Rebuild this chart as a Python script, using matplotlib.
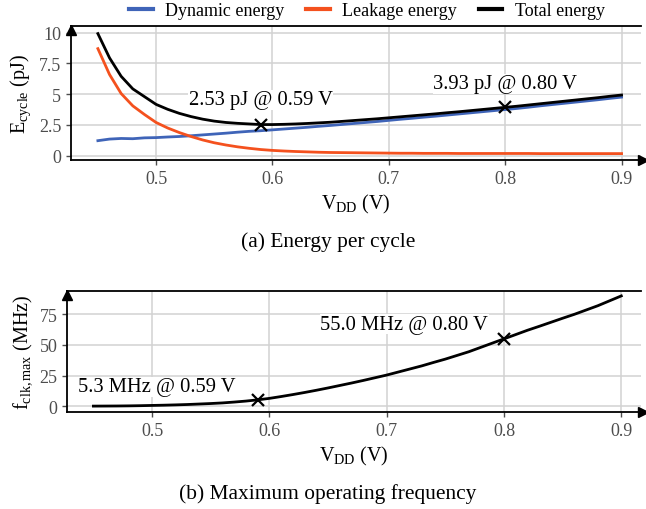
import matplotlib
matplotlib.use("Agg")
import matplotlib.pyplot as plt
from matplotlib.ticker import FuncFormatter
from matplotlib.transforms import offset_copy

plt.rcParams['font.family'] = ['Liberation Serif', 'DejaVu Serif']
plt.rcParams['mathtext.fontset'] = 'custom'
plt.rcParams['mathtext.rm'] = 'Liberation Serif'
plt.rcParams['mathtext.it'] = 'Liberation Serif:italic'

# ---------------- data ----------------
vdd = [0.45, 0.46, 0.47, 0.48, 0.49, 0.50, 0.51, 0.52, 0.53, 0.54,
       0.55, 0.56, 0.57, 0.58, 0.59, 0.60, 0.61, 0.62, 0.63, 0.64,
       0.65, 0.66, 0.67, 0.68, 0.69, 0.70, 0.71, 0.72, 0.73, 0.74,
       0.75, 0.76, 0.77, 0.78, 0.79, 0.80, 0.81, 0.82, 0.83, 0.84,
       0.85, 0.86, 0.87, 0.88, 0.89, 0.90]

dynamic_energy = [1.22, 1.35, 1.40, 1.38, 1.45, 1.47, 1.52, 1.56, 1.62, 1.69,
                  1.76, 1.83, 1.91, 1.98, 2.03, 2.10, 2.17, 2.24, 2.31, 2.39,
                  2.46, 2.54, 2.62, 2.70, 2.78, 2.87, 2.96, 3.04, 3.13, 3.21,
                  3.30, 3.39, 3.48, 3.57, 3.66, 3.75, 3.84, 3.94, 4.05, 4.15,
                  4.25, 4.35, 4.45, 4.55, 4.66, 4.76]

leakage_energy = [8.70, 6.60, 5.05, 4.05, 3.35, 2.70, 2.25, 1.88, 1.56, 1.28,
                  1.05, 0.87, 0.72, 0.60, 0.50, 0.43, 0.38, 0.34, 0.31, 0.28,
                  0.26, 0.25, 0.24, 0.23, 0.22, 0.21, 0.20, 0.20, 0.19, 0.19,
                  0.19, 0.18, 0.18, 0.18, 0.18, 0.18, 0.18, 0.18, 0.17, 0.17,
                  0.17, 0.17, 0.17, 0.17, 0.17, 0.17]

total_energy = [9.92, 7.95, 6.45, 5.43, 4.80, 4.17, 3.77, 3.44, 3.18, 2.97,
                2.81, 2.70, 2.63, 2.58, 2.53, 2.53, 2.55, 2.58, 2.62, 2.67,
                2.72, 2.79, 2.86, 2.93, 3.00, 3.08, 3.16, 3.24, 3.32, 3.40,
                3.49, 3.57, 3.66, 3.75, 3.84, 3.93, 4.02, 4.12, 4.22, 4.32,
                4.42, 4.52, 4.62, 4.72, 4.83, 4.93]

fclk_max = [0.2, 0.25, 0.3, 0.4, 0.55, 0.75, 0.95, 1.2, 1.5, 1.9,
            2.3, 2.8, 3.5, 4.3, 5.3, 6.5, 8.0, 9.6, 11.3, 13.1,
            15.0, 17.0, 19.0, 21.1, 23.3, 25.5, 28.0, 30.5, 33.0, 35.8,
            38.5, 41.5, 44.5, 48.0, 51.5, 55.0, 58.5, 62.0, 65.2, 68.5,
            71.8, 75.0, 78.5, 82.0, 86.0, 90.0]

energy_points_v = [0.59, 0.80]
energy_points_e = [2.53, 3.93]
energy_labels = ["2.53 pJ @ 0.59 V", "3.93 pJ @ 0.80 V"]
energy_label_pos = [(0.59, 4.53), (0.80, 5.83)]

freq_points_v = [0.59, 0.80]
freq_points_f = [5.3, 55.0]
freq_labels = ["5.3 MHz @ 0.59 V", "55.0 MHz @ 0.80 V"]
freq_label_pos = [(0.504, 16.0), (0.715, 66.8)]

x_ticks = [0.5, 0.6, 0.7, 0.8, 0.9]
energy_ticks = [0, 2.5, 5, 7.5, 10]
freq_ticks = [0, 25, 50, 75]

series_names = ["Dynamic energy", "Leakage energy", "Total energy"]
series_colors = ["#3f64b8", "#f4511e", "#000000"]

# ---------------- figure ----------------
W, H = 646, 510
fig = plt.figure(figsize=(W / 100, H / 100), dpi=100)

def px_axes(left, top, right, bottom):
    return fig.add_axes([left / W, 1 - bottom / H, (right - left) / W, (bottom - top) / H])

ax1 = px_axes(71, 27, 641, 161)
ax2 = px_axes(67, 292, 641, 413)

tick_col = "#4d4d4d"
grid_col = "#d2d2d2"

def style(ax, yticks):
    ax.grid(True, color=grid_col, linewidth=1.1)
    ax.set_axisbelow(True)
    ax.spines['right'].set_visible(False)
    for s in ['left', 'bottom', 'top']:
        ax.spines[s].set_linewidth(1.3)
        ax.spines[s].set_color('black')
    ax.set_xticks(x_ticks)
    ax.set_yticks(yticks)
    ax.tick_params(axis='both', colors=tick_col, labelsize=13, length=3.5, width=1.0,
                   labelcolor=tick_col)
    ax.xaxis.set_major_formatter(FuncFormatter(lambda v, p: f"{v:g}"))
    ax.yaxis.set_major_formatter(FuncFormatter(lambda v, p: f"{v:g}"))
    tr_r = offset_copy(ax.transAxes, fig=fig, x=1.5, y=0, units='points')
    ax.plot(1, 0, marker='>', color='black', markersize=7, transform=tr_r,
            clip_on=False, zorder=10)
    tr_t = offset_copy(ax.transAxes, fig=fig, x=0, y=-3.0, units='points')
    ax.plot(0, 1, marker='^', color='black', markersize=7, transform=tr_t,
            clip_on=False, zorder=10)

# --- panel (a)
style(ax1, energy_ticks)
l1, = ax1.plot(vdd, dynamic_energy, color=series_colors[0], lw=2.0)
l2, = ax1.plot(vdd, leakage_energy, color=series_colors[1], lw=2.0)
l3, = ax1.plot(vdd, total_energy, color=series_colors[2], lw=2.0)
ax1.plot(energy_points_v, energy_points_e, 'x', color='black', markersize=8, mew=1.6, zorder=5)
for lab, (lx, ly) in zip(energy_labels, energy_label_pos):
    ax1.text(lx, ly, lab, ha='center', va='center', fontsize=14.8,
             bbox=dict(facecolor='white', edgecolor='none', pad=0.5), zorder=6)
ax1.set_xlim(0.4269, 0.9167)
ax1.set_ylim(-0.35, 10.54)
ax1.set_ylabel(r"E$_\mathrm{cycle}$ (pJ)", fontsize=14.5, labelpad=4)
ax1.set_xlabel(r"V$_\mathrm{DD}$ (V)", fontsize=14.5, labelpad=4)

leg = fig.legend(handles=[l1, l2, l3], labels=series_names, loc='center',
                 bbox_to_anchor=(367 / W, 1 - 12 / H), ncol=3, frameon=False,
                 fontsize=13, handlelength=1.3, columnspacing=1.2, handletextpad=0.7,
                 borderpad=0)
for lh in leg.get_lines():
    lh.set_linewidth(3)

fig.text(328 / W, 1 - 242 / H, "(a) Energy per cycle", ha='center', va='center', fontsize=15.4)

# --- panel (b)
style(ax2, freq_ticks)
ax2.plot(vdd, fclk_max, color='black', lw=2.0)
ax2.plot(freq_points_v, freq_points_f, 'x', color='black', markersize=8, mew=1.6, zorder=5)
for lab, (lx, ly) in zip(freq_labels, freq_label_pos):
    ax2.text(lx, ly, lab, ha='center', va='center', fontsize=14.8,
             bbox=dict(facecolor='white', edgecolor='none', pad=0.5), zorder=6)
ax2.set_xlim(0.4275, 0.9168)
ax2.set_ylim(-4.6, 94)
ax2.set_ylabel(r"f$_\mathrm{clk,max}$ (MHz)", fontsize=14.5, labelpad=4)
ax2.set_xlabel(r"V$_\mathrm{DD}$ (V)", fontsize=14.5, labelpad=4)

fig.text(328 / W, 1 - 494 / H, "(b) Maximum operating frequency", ha='center', va='center',
         fontsize=15.4)

fig.savefig("out.png", dpi=100)
